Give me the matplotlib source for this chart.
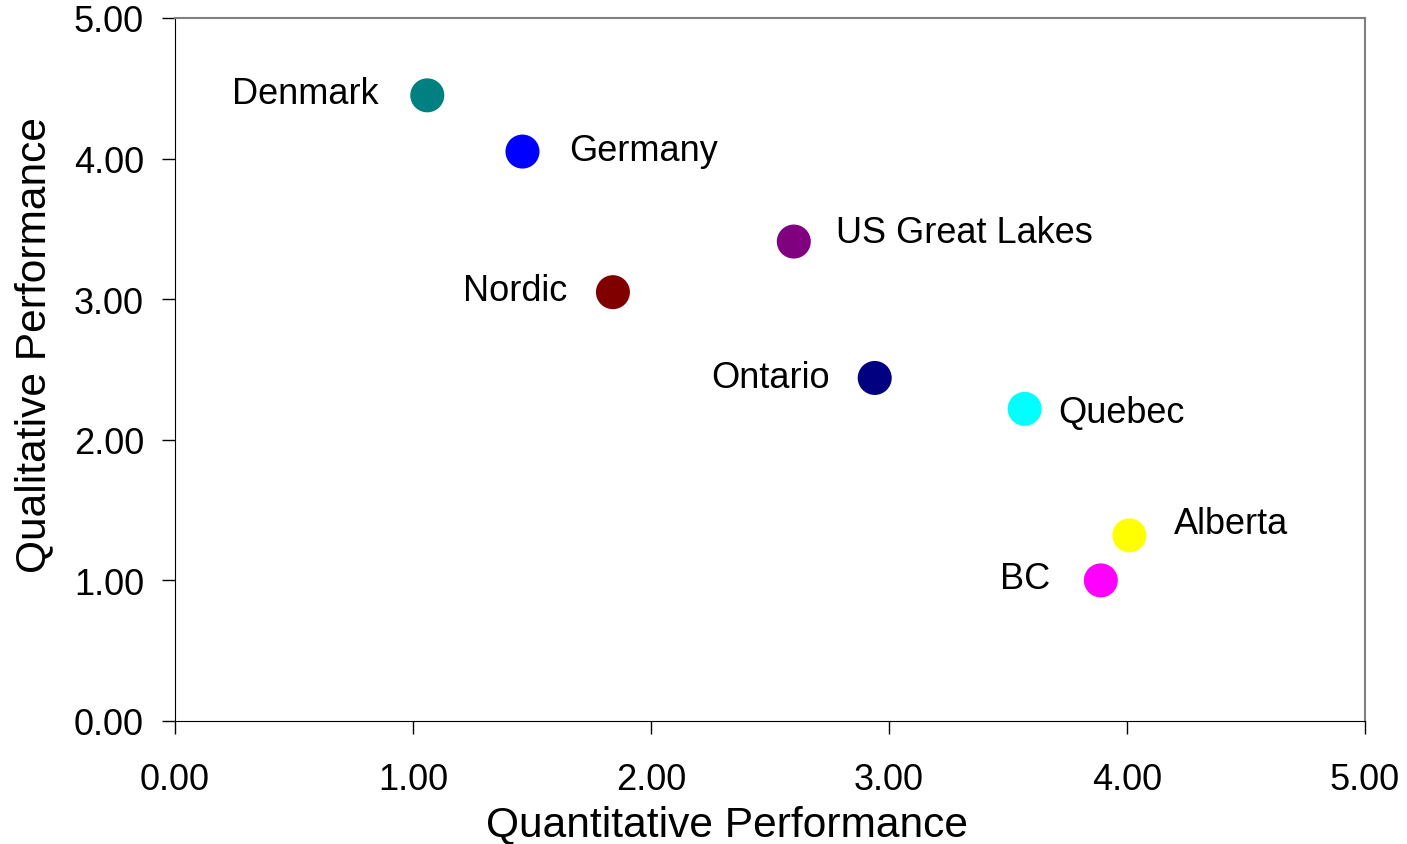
import matplotlib.pyplot as plt

plt.rcParams['font.family'] = ['Liberation Sans', 'DejaVu Sans']

# data
regions = ["Denmark", "Germany", "US Great Lakes", "Nordic", "Ontario",
           "Quebec", "Alberta", "BC"]
quantitative = [1.06, 1.46, 2.60, 1.84, 2.94, 3.57, 4.01, 3.89]
qualitative = [4.45, 4.05, 3.41, 3.05, 2.44, 2.22, 1.32, 1.00]
colors = ["#008080", "#0000FF", "#800080", "#800000", "#000080",
          "#00FFFF", "#FFFF00", "#FF00FF"]

# label placement (pixel offsets from point, alignment)
label_offsets = [(-49, 2, 'right'), (47, 1, 'left'), (42, 9, 'left'),
                 (-46, 2, 'right'), (-45, 0, 'right'), (34, -4, 'left'),
                 (45, 12, 'left'), (-51, 2, 'right')]

fig = plt.figure(figsize=(14.07, 8.45), dpi=100)
ax = fig.add_axes([175/1407, 123/845, 1190/1407, 703/845])

ax.scatter(quantitative, qualitative, s=600, c=colors, edgecolors='none', zorder=3)

for name, x, y, (dx, dy, ha) in zip(regions, quantitative, qualitative, label_offsets):
    ax.annotate(name, (x, y), xytext=(dx, dy), textcoords='offset pixels',
                ha=ha, va='center', fontsize=26)

ax.set_xlim(0, 5)
ax.set_ylim(0, 5)
ticks = [0, 1, 2, 3, 4, 5]
ax.set_xticks(ticks)
ax.set_yticks(ticks)
ax.set_xticklabels(["%.2f" % t for t in ticks])
ax.set_yticklabels(["%.2f" % t for t in ticks])
ax.tick_params(axis='both', direction='out', length=9.4, width=1, labelsize=26)
ax.tick_params(axis='x', pad=20)
ax.tick_params(axis='y', pad=13)

ax.spines['left'].set_color('black')
ax.spines['bottom'].set_color('black')
ax.spines['top'].set_color('#808080')
ax.spines['right'].set_color('#808080')
ax.spines['top'].set_linewidth(1.5)
ax.spines['right'].set_linewidth(1.5)

ax.set_xlabel("Quantitative Performance", fontsize=30.6, va='center')
ax.set_ylabel("Qualitative Performance", fontsize=30.6, va='center')
ax.xaxis.set_label_coords(0.464, -0.1465)
ax.yaxis.set_label_coords(-0.118, 0.536)

fig.savefig("out.png", dpi=100)
